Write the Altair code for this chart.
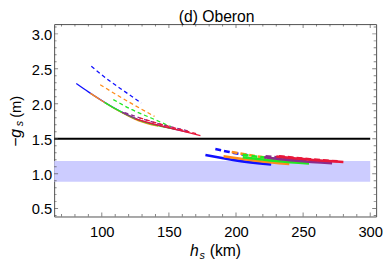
import altair as alt
import pandas as pd

FONT = "Liberation Sans"
FRAME = "#505050"

# ---------------- data ----------------
x_domain = [64.5, 304.4]
y_domain = [0.387, 3.14]
x_tick_labels = [100, 150, 200, 250, 300]
y_tick_labels = [0.5, 1.0, 1.5, 2.0, 2.5, 3.0]
x_minor = [70, 80, 90, 110, 120, 130, 140, 160, 170, 180, 190, 210, 220, 230, 240, 260, 270, 280, 290]
y_minor = [0.4, 0.6, 0.7, 0.8, 0.9, 1.1, 1.2, 1.3, 1.4, 1.6, 1.7, 1.8, 1.9, 2.1, 2.2, 2.3, 2.4, 2.6, 2.7, 2.8, 2.9, 3.1]

band_low = 0.886
band_high = 1.18
band_x_end = 300
ref_level = 1.5
ref_x_end = 300

names = ["blue", "orange", "green", "purple", "red"]
colors = ["#1010ff", "#ff8c1a", "#22e822", "#8b2b8b", "#e8173a"]

# upper branch, solid
us_blue_x = [81, 90, 98, 110, 125]
us_blue_y = [2.29, 2.17, 2.07, 1.93, 1.78]
us_orange_x = [91.5, 98, 110, 127, 142]
us_orange_y = [2.15, 2.068, 1.925, 1.76, 1.68]
us_green_x = [102, 110, 127, 147, 155]
us_green_y = [2.02, 1.93, 1.77, 1.665, 1.635]
us_purple_x = [115, 127, 147, 165]
us_purple_y = [1.88, 1.775, 1.67, 1.59]
us_red_x = [125, 147, 161, 173.5]
us_red_y = [1.785, 1.67, 1.605, 1.545]

# upper branch, dashed
ud_blue_x = [92.2, 104.9, 117.2, 129.4]
ud_blue_y = [2.537, 2.34, 2.174, 2.01]
ud_orange_x = [98.8, 112.3, 124.6, 139.3]
ud_orange_y = [2.273, 2.114, 1.977, 1.819]
ud_green_x = [108.6, 122.1, 136.8, 151.5]
ud_green_y = [2.06, 1.919, 1.796, 1.673]
ud_purple_x = [117, 135, 155, 166]
ud_purple_y = [1.875, 1.755, 1.655, 1.605]
ud_red_x = [128, 150, 172]
ud_red_y = [1.80, 1.675, 1.565]

# lower branch, solid
ls_blue_x = [177.2, 200, 226.2]
ls_blue_y = [1.268, 1.19, 1.132]
ls_orange_x = [190.7, 215, 239.7]
ls_orange_y = [1.25, 1.185, 1.137]
ls_green_x = [205, 230, 254.4]
ls_green_y = [1.235, 1.18, 1.145]
ls_purple_x = [221, 245, 271.6]
ls_purple_y = [1.235, 1.185, 1.15]
ls_red_x = [230, 255, 280]
ls_red_y = [1.245, 1.2, 1.168]

# lower branch, dashed
ld_blue_x = [184.6, 195, 210]
ld_blue_y = [1.353, 1.31, 1.26]
ld_orange_x = [196.8, 215, 235]
ld_orange_y = [1.31, 1.25, 1.205]
ld_green_x = [205, 228, 250]
ld_green_y = [1.27, 1.215, 1.18]
ld_purple_x = [222, 245, 270]
ld_purple_y = [1.25, 1.205, 1.168]
ld_red_x = [232, 255, 276]
ld_red_y = [1.25, 1.207, 1.176]

title_text = "(d) Oberon"

# ---------------- chart ----------------
W, H = 328, 196
PAD_L, PAD_T = 47, 14

xs = alt.Scale(domain=x_domain, nice=False, zero=False)
ys = alt.Scale(domain=y_domain, nice=False, zero=False)
x_axis = alt.Axis(values=x_tick_labels, ticks=False, domain=False, grid=False,
                  labelFontSize=15, labelFont=FONT, labelColor="black",
                  labelPadding=8, labelFlush=False, labelOverlap=False)


def X(f):
    return alt.X(f, type="quantitative", scale=xs, axis=x_axis, title=None)


def Y(f):
    return alt.Y(f, type="quantitative", scale=ys, axis=None, title=None)


layers = []

band_df = pd.DataFrame({"x0": [x_domain[0]], "x1": [band_x_end], "y0": [band_low], "y1": [band_high]})
layers.append(alt.Chart(band_df).mark_rect(color="#ccccff", clip=True).encode(
    x=X("x0"), x2="x1", y=Y("y0"), y2="y1"))

ref_df = pd.DataFrame({"x0": [x_domain[0]], "x1": [ref_x_end], "y": [ref_level]})
layers.append(alt.Chart(ref_df).mark_rule(color="black", strokeWidth=2, clip=True).encode(
    x=X("x0"), x2="x1", y=Y("y")))

g = globals()
for group, width, dash_len in [("u", 1.3, [4, 3]), ("l", 2.6, [6, 3])]:
    for name, col in zip(names, colors):
        for kind in ("d", "s"):
            xv = g[f"{group}{kind}_{name}_x"]
            yv = g[f"{group}{kind}_{name}_y"]
            df = pd.DataFrame({"x": xv, "y": yv})
            kw = dict(color=col, strokeWidth=width, interpolate="monotone", clip=True)
            if kind == "d":
                kw["strokeDash"] = dash_len
            layers.append(alt.Chart(df).mark_line(**kw).encode(x=X("x"), y=Y("y")))

# inward frame ticks (all four sides)
xt_v = x_tick_labels + x_minor
xt_s = [8] * len(x_tick_labels) + [5] * len(x_minor)
yt_v = y_tick_labels + y_minor
yt_s = [8] * len(y_tick_labels) + [5] * len(y_minor)
for yd in y_domain:
    df = pd.DataFrame({"v": xt_v, "s": xt_s, "e": [yd] * len(xt_v)})
    layers.append(alt.Chart(df).mark_tick(orient="vertical", clip=True, thickness=1, color=FRAME).encode(
        x=X("v"), y=Y("e"), size=alt.Size("s:Q", scale=None)))
for xd in x_domain:
    df = pd.DataFrame({"v": yt_v, "s": yt_s, "e": [xd] * len(yt_v)})
    layers.append(alt.Chart(df).mark_tick(orient="horizontal", clip=True, thickness=1, color=FRAME).encode(
        y=Y("v"), x=X("e"), size=alt.Size("s:Q", scale=None)))

# y tick labels, placed through the y scale
yl = pd.DataFrame({"v": y_tick_labels, "e": [x_domain[0]] * len(y_tick_labels)})
layers.append(alt.Chart(yl).mark_text(font=FONT, fontSize=15, align="right", baseline="middle",
                                      dx=-2, dy=1, color="black").encode(
    y=Y("v"), x=X("e"), text=alt.Text("v:Q", format=".1f")))


# text: title and axis titles (with italic symbols and subscripts)
def txt(s, px, py, size, style="normal", angle=0, align="left"):
    d = pd.DataFrame({"t": [s]})
    return alt.Chart(d).mark_text(font=FONT, fontSize=size, fontStyle=style, angle=angle,
                                  align=align, baseline="alphabetic", color="black").encode(
        text="t:N", x=alt.value(px - (PAD_L + 8)), y=alt.value(py - (PAD_T + 8)))


layers.append(txt(title_text, 220.5, 20, 16, align="center"))
layers.append(txt("h", 193.3, 258.3, 16, "italic"))
layers.append(txt("s", 203.0, 260.8, 11, "italic"))
layers.append(txt("(km)", 213.5, 258.3, 16))
layers.append(txt("\u2212g", 21, 147, 16, "italic", angle=270))
layers.append(txt("s", 23.5, 126, 11, "italic", angle=270))
layers.append(txt("(m)", 21, 117.5, 15, angle=270))

chart = alt.layer(*layers).properties(
    width=W, height=H,
    autosize=alt.AutoSizeParams(type="none"),
    padding={"left": PAD_L, "top": PAD_T, "right": 7, "bottom": 47},
).configure_view(stroke=FRAME, strokeWidth=1)

chart.save("out.html", embed_options={"renderer": "svg", "actions": False})
